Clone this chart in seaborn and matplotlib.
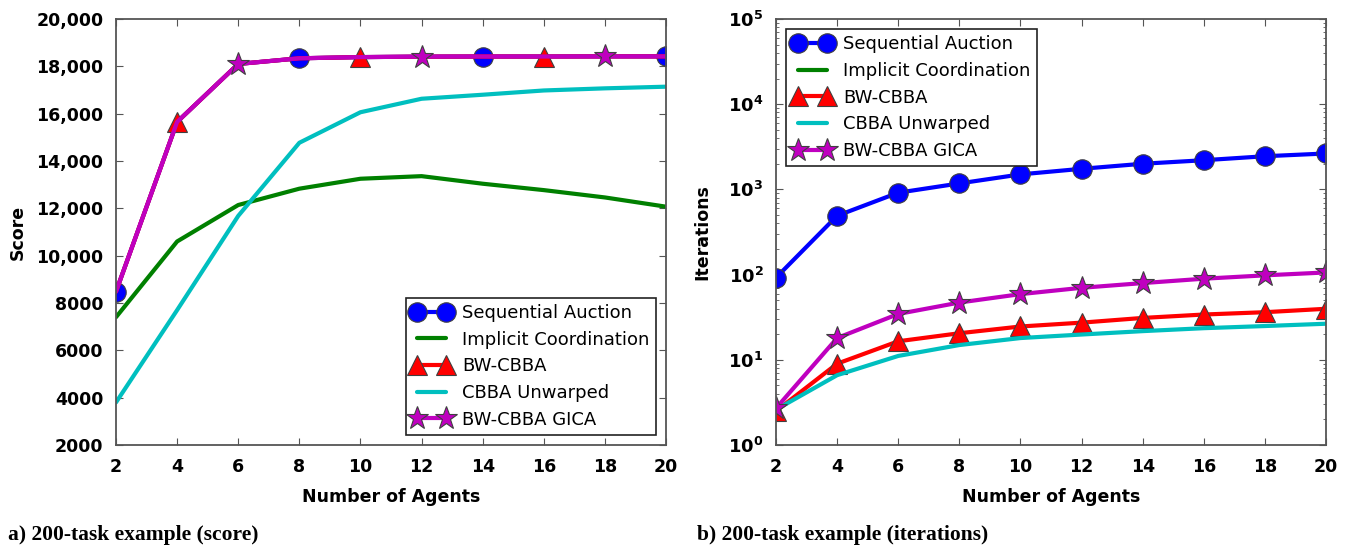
import math
import matplotlib
matplotlib.use("Agg")
import matplotlib.pyplot as plt
from matplotlib.ticker import FixedLocator, FixedFormatter, LogLocator, NullFormatter, FuncFormatter
import seaborn as sns

# ---- data ----
agents = [2, 4, 6, 8, 10, 12, 14, 16, 18, 20]

# score (200 tasks)
seq_score = [8480, 15650, 18100, 18340, 18390, 18410, 18415, 18415, 18420, 18420]
implicit_score = [7400, 10600, 12140, 12830, 13250, 13360, 13040, 12770, 12460, 12070]
bwcbba_score = [8480, 15650, 18100, 18340, 18390, 18410, 18415, 18415, 18420, 18420]
unwarped_score = [3800, 7700, 11680, 14770, 16060, 16630, 16800, 16980, 17070, 17140]
gica_score = [8480, 15650, 18100, 18340, 18390, 18410, 18415, 18415, 18420, 18420]

# iterations (200 tasks)
seq_iters = [92, 490, 915, 1175, 1500, 1745, 2000, 2200, 2450, 2640]
implicit_iters = []
bwcbba_iters = [2.5, 9.0, 16.5, 20.5, 24.6, 27.3, 31.0, 34.0, 36.2, 39.7]
unwarped_iters = [2.6, 6.6, 11.1, 14.9, 18.0, 19.8, 21.7, 23.5, 24.9, 26.5]
gica_iters = [2.7, 18.0, 34.5, 47.0, 59.0, 70.0, 79.5, 89.5, 98.0, 106.0]

series_names = ["Sequential Auction", "Implicit Coordination", "BW-CBBA",
                "CBBA Unwarped", "BW-CBBA GICA"]

score_ticks = [2000, 4000, 6000, 8000, 10000, 12000, 14000, 16000, 18000, 20000]
score_tick_labels = ["2000", "4000", "6000", "8000", "10,000", "12,000",
                     "14,000", "16,000", "18,000", "20,000"]
x_ticks = [2, 4, 6, 8, 10, 12, 14, 16, 18, 20]

# ---- style ----
sns.set_style("white")
plt.rcParams["font.family"] = ["DejaVu Sans"]
plt.rcParams["mathtext.fontset"] = "dejavusans"
for key in ("text.color", "axes.labelcolor", "xtick.labelcolor", "ytick.labelcolor"):
    plt.rcParams[key] = "black"

BLUE = (0.0, 0.0, 1.0)
GREEN = (0.0, 0.5, 0.0)
RED = (1.0, 0.0, 0.0)
CYAN = (0.0, 0.75, 0.75)
MAGENTA = (0.75, 0.0, 0.75)
LW = 3.0
EDGE = (0.25, 0.25, 0.25)

fig = plt.figure(figsize=(13.53, 5.48), dpi=100)
ax1 = fig.add_axes([116 / 1353, 1 - 445 / 548, (666 - 116) / 1353, (445 - 19) / 548])
ax2 = fig.add_axes([776 / 1353, 1 - 445 / 548, (1326 - 776) / 1353, (445 - 19) / 548])


def draw(ax, y, color, marker=None, ms=0, markevery=None, label=None):
    kw = dict(color=color, linewidth=LW, label=label, sort=False, errorbar=None)
    if marker is not None:
        kw.update(marker=marker, markersize=ms, markeredgecolor=EDGE,
                  markeredgewidth=0.8, markevery=markevery, markerfacecolor=color)
    sns.lineplot(x=agents, y=y, ax=ax, **kw)


# left panel: score
draw(ax1, seq_score, BLUE, "o", 14, (0, 3), series_names[0])
draw(ax1, implicit_score, GREEN, label=series_names[1])
draw(ax1, bwcbba_score, RED, "^", 15, (1, 3), series_names[2])
draw(ax1, unwarped_score, CYAN, label=series_names[3])
draw(ax1, gica_score, MAGENTA, "*", 17, (2, 3), series_names[4])

# right panel: iterations
draw(ax2, seq_iters, BLUE, "o", 14, None, series_names[0])
ax2.plot(implicit_iters, implicit_iters, color=GREEN, linewidth=LW, label=series_names[1])
draw(ax2, bwcbba_iters, RED, "^", 15, None, series_names[2])
draw(ax2, unwarped_iters, CYAN, label=series_names[3])
draw(ax2, gica_iters, MAGENTA, "*", 17, None, series_names[4])

tick_font = dict(fontsize=12.5, fontweight="bold")

for ax in (ax1, ax2):
    ax.set_xlim(2, 20)
    ax.xaxis.set_major_locator(FixedLocator(x_ticks))
    ax.set_xticklabels([str(t) for t in x_ticks], **tick_font)
    ax.set_xlabel("Number of Agents", fontsize=12.5, fontweight="bold", labelpad=9)
    ax.tick_params(which="both", direction="in", top=True, right=True,
                   bottom=True, left=True, color="#555555", pad=9)
    ax.tick_params(which="major", length=5, width=0.8)
    ax.tick_params(which="minor", length=2.5, width=0.6)
    for sp in ax.spines.values():
        sp.set_visible(True)
        sp.set_color("#555555")
        sp.set_linewidth(1.3)

ax1.set_ylim(2000, 20000)
ax1.yaxis.set_major_locator(FixedLocator(score_ticks))
ax1.yaxis.set_major_formatter(FixedFormatter(score_tick_labels))
for t in ax1.get_yticklabels():
    t.set_fontsize(12.5)
    t.set_fontweight("bold")
ax1.set_ylabel("Score", fontsize=12.5, fontweight="bold", labelpad=7)

ax2.set_yscale("log")
ax2.set_ylim(1, 1e5)
ax2.yaxis.set_major_locator(LogLocator(base=10, numticks=10))
ax2.yaxis.set_minor_locator(LogLocator(base=10, subs=range(2, 10), numticks=20))
ax2.yaxis.set_minor_formatter(NullFormatter())
ax2.yaxis.set_major_formatter(FuncFormatter(
    lambda v, p: r"$\mathbf{10^{%d}}$" % round(math.log10(v))))
for t in ax2.get_yticklabels():
    t.set_fontsize(13)
ax2.set_ylabel("Iterations", fontsize=12.5, fontweight="bold", labelpad=12)

leg_kw = dict(numpoints=2, fancybox=False, framealpha=1, edgecolor="#222222",
              fontsize=13, handlelength=2.2, borderpad=0.35, labelspacing=0.48,
              handletextpad=0.6, borderaxespad=0.55)
leg1 = ax1.legend(loc="lower right", **leg_kw)
leg2 = ax2.legend(loc="upper left", **leg_kw)
for leg in (leg1, leg2):
    leg.get_frame().set_linewidth(1.2)
    for ln in leg.get_lines():
        ln.set_markevery(None)

fig.text(8 / 1353, 1 - 535 / 548, "a) 200-task example (score)",
         family="Liberation Serif", fontweight="bold", fontsize=15.5, va="center")
fig.text(697 / 1353, 1 - 535 / 548, "b) 200-task example (iterations)",
         family="Liberation Serif", fontweight="bold", fontsize=15.5, va="center")

fig.savefig("out.png", dpi=100, facecolor="white")
